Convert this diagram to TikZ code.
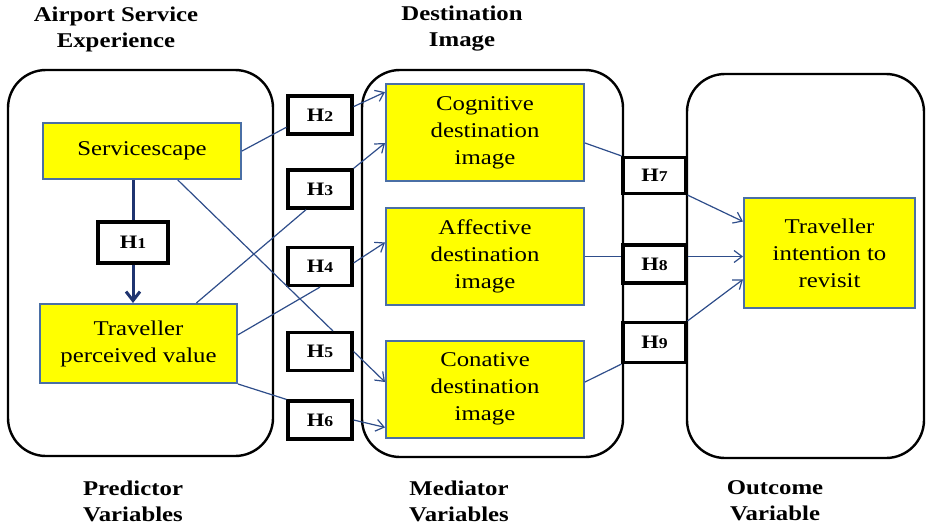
\documentclass[tikz,border=0pt]{standalone}
\usepackage{fontspec}
\setmainfont{Liberation Serif}[FakeStretch=1.18]
\usetikzlibrary{arrows.meta, positioning, calc}
\definecolor{factoryellow}{HTML}{FFFF00}
\definecolor{factoredge}{HTML}{4A6FA5}
\definecolor{linkblue}{HTML}{2E4D8A}
\definecolor{hnavy}{HTML}{1F3470}
\newcommand{\hlab}[1]{H{\fontsize{15}{15}\selectfont #1}}

\begin{document}
\begin{tikzpicture}[
  x=1pt, y=-1pt,
  panel/.style={draw, line width=2.4pt, rounded corners=38pt, inner sep=0pt},
  factor/.style={draw=factoredge, line width=2pt, fill=factoryellow,
    minimum width=198pt, align=center, inner sep=0pt,
    font=\fontsize{21}{27}\selectfont},
  hyp/.style={draw, line width=3.2pt, fill=white, minimum width=64pt,
    minimum height=38pt, inner sep=0pt, font=\fontsize{19}{19}\selectfont\bfseries},
  title/.style={font=\fontsize{21}{26}\selectfont\bfseries, align=center},
  link/.style={linkblue, line width=1.2pt},
  head/.style={-{Straight Barb[length=8pt, width=12pt]}}
]
  \useasboundingbox (0,0) rectangle (926,524);

  % Panels
  \node[panel, minimum width=265pt, minimum height=386pt] (pred) at (140.5,263) {};
  \node[panel, minimum width=261pt, minimum height=387pt] (med) at (492.5,263.5) {};
  \node[panel, minimum width=237pt, minimum height=384pt] (outc) at (805.5,266) {};

  % Panel titles
  \node[title] (predtop) at (116,29) {Airport Service\\Experience};
  \node[title] (medtop) at (462,29) {Destination\\Image};
  \node[title] (predbot) at (133,501) {Predictor\\Variables};
  \node[title] (medbot) at (459,501) {Mediator\\Variables};
  \node[title] (outcbot) at (775,501) {Outcome\\Variable};

  % Predictors
  \node[factor, minimum height=56pt] (ss) at (142,151) {Servicescape};
  \node[factor, minimum width=197pt, minimum height=79pt] (tpv) at (138.5,343.5)
    {Traveller\\perceived value};

  % Mediators
  \node[factor, minimum height=97pt] (cog) at (485,132.5)
    {Cognitive\\destination\\image};
  \node[factor, minimum height=97pt] (aff) at (485,256.5)
    {Affective\\destination\\image};
  \node[factor, minimum height=97pt] (con) at (485,389)
    {Conative\\destination\\image};

  % Outcome
  \node[factor, minimum width=171pt, minimum height=110pt] (tir) at (829.5,253)
    {Traveller\\intention to\\revisit};

  % Hypotheses
  \node[hyp, minimum width=70pt, minimum height=41pt] (h1) at (133,242.5) {\hlab{1}};
  \node[hyp] (h2) at (320,115) {\hlab{2}};
  \node[hyp] (h3) at (320,189) {\hlab{3}};
  \node[hyp] (h4) at (320,266.5) {\hlab{4}};
  \node[hyp] (h5) at (320,351.5) {\hlab{5}};
  \node[hyp] (h6) at (320,420) {\hlab{6}};
  \node[hyp, minimum width=63pt, minimum height=36pt] (h7) at (654.5,175.5) {\hlab{7}};
  \node[hyp, minimum width=63pt] (h8) at (654.5,264) {\hlab{8}};
  \node[hyp, minimum width=63pt, minimum height=40pt] (h9) at (654.5,342.5) {\hlab{9}};

  % H1
  \draw[hnavy, line width=3pt] (h1.north |- ss.south) -- (h1.north);
  \draw[hnavy, line width=3pt, -{Straight Barb[length=9pt, width=14pt]}]
    (h1.south) -- (h1.south |- tpv.north);

  % Predictors to mediators
  \draw[link] (ss.east) -- (h2.200);
  \draw[link, head] (h2.14) -- (cog.158);
  \draw[link] (tpv.35) -- (h3.236);
  \draw[link, head] (h3.north east) -- (cog.186);
  \draw[link] (tpv.5) -- (h4.south);
  \draw[link, head] (h4.6) -- (aff.172);
  \draw[link] (ss.321) -- (h5.58);
  \draw[link, head] (h5.east) -- (con.176);
  \draw[link] (tpv.south east) -- (h6.north west);
  \draw[link, head] (h6.east) -- (con.201);

  % Mediators to outcome
  \draw[link] (cog.354) -- (h7.north west);
  \draw[link, head] (h7.south east) -- (tir.160);
  \draw[link] (aff.east) -- (h8.west |- aff.east);
  \draw[link, head] (h8.east |- aff.east) -- (tir.west |- aff.east);
  \draw[link] (con.4) -- (h9.south west);
  \draw[link, head] (h9.north east) -- (tir.197);
\end{tikzpicture}
\end{document}
